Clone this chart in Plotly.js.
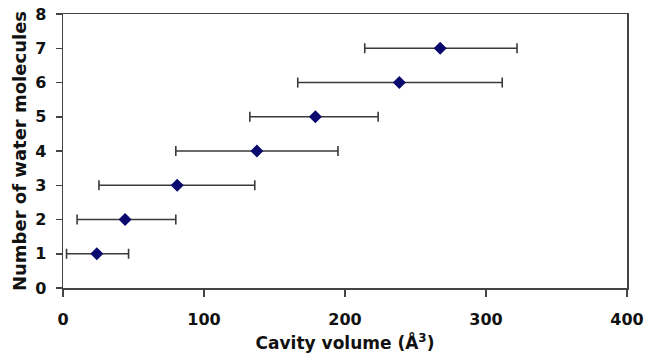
<!DOCTYPE html>
<html>
<head>
<meta charset="utf-8">
<script src="https://cdn.plot.ly/plotly-3.0.1.min.js"></script>
<style>html,body{margin:0;padding:0;background:#fff;}#chart{width:646px;height:356px;}</style>
</head>
<body>
<div id="chart"></div>
<script>
// Data
var waterMolecules = [1, 2, 3, 4, 5, 6, 7];
var cavityVolume   = [24, 44, 81, 137.5, 179, 238.5, 267.5];
var rangeLow       = [2.5, 10, 25.5, 80, 132.5, 166.5, 214];
var rangeHigh      = [46.5, 80, 136, 195, 223.5, 311.5, 322];
var xTickVals = [0, 100, 200, 300, 400];
var yTickVals = [0, 1, 2, 3, 4, 5, 6, 7, 8];

var errPlus = cavityVolume.map(function(v, i){ return rangeHigh[i] - v; });
var errMinus = cavityVolume.map(function(v, i){ return v - rangeLow[i]; });

var font = 'DejaVu Sans, Arial, sans-serif';

var trace = {
  type: 'scatter',
  mode: 'markers',
  x: cavityVolume,
  y: waterMolecules,
  marker: {symbol: 'diamond', size: 10, color: '#0a0a6e'},
  error_x: {
    type: 'data', symmetric: false,
    array: errPlus, arrayminus: errMinus,
    color: '#3a3a3a', thickness: 1.6, width: 5
  },
  showlegend: false,
  hoverinfo: 'none'
};

var layout = {
  width: 646, height: 356,
  margin: {l: 63, r: 19, t: 14, b: 68},
  paper_bgcolor: '#ffffff', plot_bgcolor: '#ffffff',
  font: {family: font, color: '#111'},
  xaxis: {
    range: [0, 400], tickvals: xTickVals, ticktext: xTickVals.map(String),
    showgrid: false, zeroline: false,
    showline: true, mirror: true, linecolor: '#444', linewidth: 1.5,
    ticks: 'outside', ticklen: 7, tickwidth: 1.5, tickcolor: '#444',
    tickfont: {family: font, size: 16, color: '#111', weight: 'bold'},
    ticklabelstandoff: 9,
    title: {text: '<b>Cavity volume (Å<sup>3</sup>)</b>', font: {family: font, size: 17, color: '#111'}, standoff: 9}
  },
  yaxis: {
    range: [0, 8], tickvals: yTickVals, ticktext: yTickVals.map(String),
    showgrid: false, zeroline: false,
    showline: true, mirror: true, linecolor: '#444', linewidth: 1.5,
    ticks: 'outside', ticklen: 6, tickwidth: 1.5, tickcolor: '#444',
    tickfont: {family: font, size: 16, color: '#111', weight: 'bold'},
    ticklabelstandoff: 6,
    title: {text: '<b>Number of water molecules</b>', font: {family: font, size: 18, color: '#111'}, standoff: 4}
  }
};

Plotly.newPlot('chart', [trace], layout, {displayModeBar: false, staticPlot: true});
</script>
</body>
</html>
